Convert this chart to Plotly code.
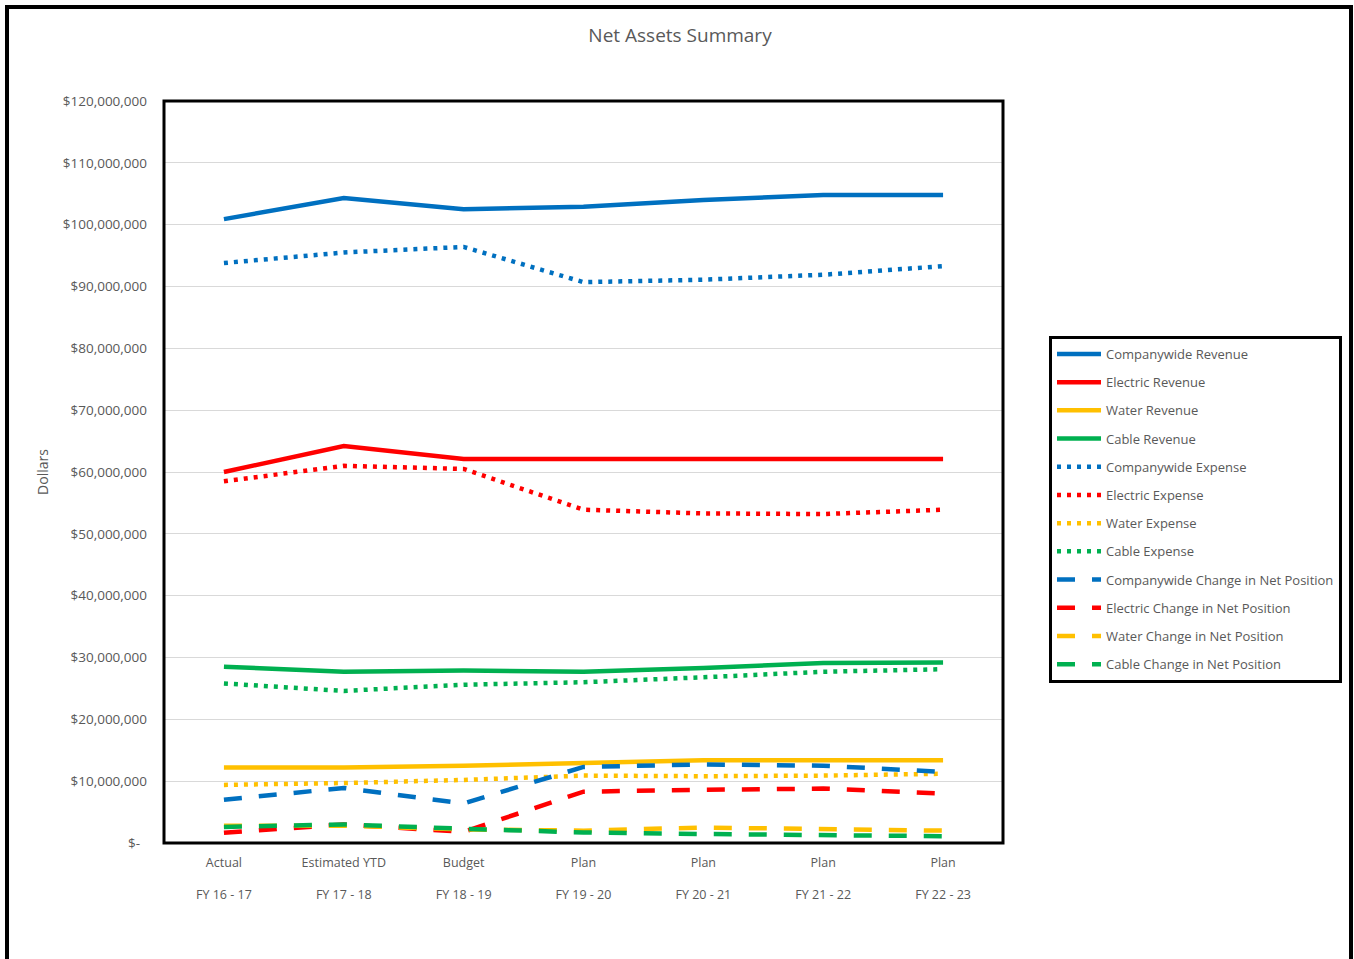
import plotly.graph_objects as go

periods = ["FY 16 - 17", "FY 17 - 18", "FY 18 - 19", "FY 19 - 20", "FY 20 - 21", "FY 21 - 22", "FY 22 - 23"]
stages = ["Actual", "Estimated YTD", "Budget", "Plan", "Plan", "Plan", "Plan"]

companywide_revenue = [100.9e6, 104.3e6, 102.5e6, 102.9e6, 104.0e6, 104.8e6, 104.8e6]
electric_revenue = [60.0e6, 64.2e6, 62.1e6, 62.1e6, 62.1e6, 62.1e6, 62.1e6]
water_revenue = [12.2e6, 12.2e6, 12.5e6, 12.9e6, 13.4e6, 13.4e6, 13.4e6]
cable_revenue = [28.5e6, 27.7e6, 27.9e6, 27.7e6, 28.3e6, 29.1e6, 29.2e6]

companywide_expense = [93.8e6, 95.5e6, 96.4e6, 90.7e6, 91.1e6, 91.9e6, 93.3e6]
electric_expense = [58.5e6, 61.0e6, 60.5e6, 53.9e6, 53.3e6, 53.2e6, 53.9e6]
water_expense = [9.4e6, 9.7e6, 10.2e6, 10.9e6, 10.8e6, 10.9e6, 11.2e6]
cable_expense = [25.8e6, 24.6e6, 25.6e6, 26.0e6, 26.8e6, 27.7e6, 28.1e6]

companywide_change = [7.0e6, 8.9e6, 6.4e6, 12.3e6, 12.7e6, 12.5e6, 11.5e6]
electric_change = [1.65e6, 3.0e6, 1.8e6, 8.3e6, 8.6e6, 8.8e6, 8.0e6]
water_change = [2.8e6, 2.8e6, 2.2e6, 2.0e6, 2.5e6, 2.3e6, 2.0e6]
cable_change = [2.6e6, 3.0e6, 2.3e6, 1.7e6, 1.45e6, 1.3e6, 1.1e6]

y_tick_values = [i * 10_000_000 for i in range(13)]
y_tick_labels = ["$-\u00a0\u00a0"] + [f"${v:,}" for v in y_tick_values[1:]]

BLUE, RED, YELLOW, GREEN = "#0070C0", "#FF0000", "#FFC000", "#00B050"

series = [
    ("Companywide Revenue", companywide_revenue, BLUE, "solid"),
    ("Electric Revenue", electric_revenue, RED, "solid"),
    ("Water Revenue", water_revenue, YELLOW, "solid"),
    ("Cable Revenue", cable_revenue, GREEN, "solid"),
    ("Companywide Expense", companywide_expense, BLUE, "4px,6px"),
    ("Electric Expense", electric_expense, RED, "4px,6px"),
    ("Water Expense", water_expense, YELLOW, "4px,6px"),
    ("Cable Expense", cable_expense, GREEN, "4px,6px"),
    ("Companywide Change in Net Position", companywide_change, BLUE, "18px,17px"),
    ("Electric Change in Net Position", electric_change, RED, "18px,17px"),
    ("Water Change in Net Position", water_change, YELLOW, "18px,17px"),
    ("Cable Change in Net Position", cable_change, GREEN, "18px,17px"),
]

FONT = "Open Sans"
GREY = "#595959"

fig = go.Figure()
for name, vals, color, dash in series:
    fig.add_trace(go.Scatter(
        x=periods, y=vals, name=name, mode="lines", legendgroup=name,
        line=dict(color=color, width=4.5, dash=dash),
    ))

W, H = 1354, 959
L, R, T, B = 164, 1003, 101, 843
pw, ph = R - L, B - T

def px(x):
    return (x - L) / pw

def py(y):
    return (B - y) / ph

fig.update_layout(
    width=W, height=H,
    margin=dict(l=L, r=W - R, t=T, b=H - B, autoexpand=False),
    paper_bgcolor="white", plot_bgcolor="white",
    font=dict(family=FONT, color=GREY, size=13),
    title=dict(text="Net Assets Summary", x=680 / W, xref="container", xanchor="center",
               y=1 - 35 / H, yref="container", yanchor="middle",
               font=dict(size=19, color=GREY, family=FONT)),
    showlegend=True,
    legend=dict(
        x=px(1049), y=py(336), xanchor="left", yanchor="top",
        bordercolor="black", borderwidth=3, bgcolor="white",
        font=dict(size=13, color=GREY, family=FONT),
        tracegroupgap=8.3, itemwidth=44, traceorder="grouped",
    ),
    xaxis=dict(
        type="category", categoryorder="array", categoryarray=periods,
        range=[-0.5, len(periods) - 0.5],
        tickmode="array", tickvals=periods,
        ticktext=[f"{s}<br><br>{p}" for s, p in zip(stages, periods)],
        showgrid=False, zeroline=False, ticks="", showline=False,
        ticklabelstandoff=10,
        tickfont=dict(size=12.5, color=GREY, family=FONT),
    ),
    yaxis=dict(
        range=[0, 120_000_000], tickmode="array", tickvals=y_tick_values,
        ticktext=y_tick_labels, showgrid=True, gridcolor="#D9D9D9", gridwidth=1,
        zeroline=False, ticks="", showline=False, ticklabelstandoff=16,
        tickfont=dict(size=13.5, color=GREY, family=FONT),
        title=dict(text="Dollars", standoff=10, font=dict(size=14, color=GREY, family=FONT)),
    ),
    shapes=[
        dict(type="rect", xref="paper", yref="paper", x0=0, x1=1, y0=0, y1=1,
             line=dict(color="black", width=3), layer="above"),
        dict(type="rect", xref="paper", yref="paper", x0=px(7), x1=px(1351),
             y0=py(975), y1=py(7), line=dict(color="black", width=4), layer="above"),
    ],
)

fig.write_html("out.html")
